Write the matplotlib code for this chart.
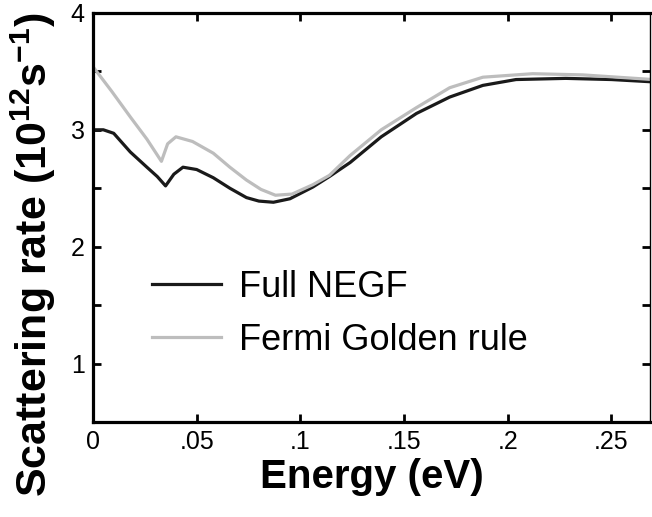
import matplotlib
matplotlib.use("Agg")
import matplotlib.pyplot as plt

plt.rcParams['font.family'] = ['Liberation Sans', 'DejaVu Sans']
plt.rcParams['mathtext.default'] = 'regular'

# Full NEGF (black)
energy_negf = [0, 0.005, 0.01, 0.018, 0.026, 0.031, 0.035, 0.039, 0.0434, 0.05,
               0.058, 0.066, 0.074, 0.08, 0.087, 0.095, 0.106, 0.114, 0.124,
               0.139, 0.156, 0.172, 0.188, 0.204, 0.228, 0.25, 0.27]
rate_negf = [3.0, 3.0, 2.97, 2.81, 2.68, 2.60, 2.52, 2.62, 2.68, 2.66,
             2.59, 2.50, 2.42, 2.39, 2.38, 2.41, 2.51, 2.60, 2.72,
             2.94, 3.14, 3.28, 3.38, 3.43, 3.44, 3.43, 3.41]

# Fermi Golden rule (grey)
energy_fgr = [0, 0.009, 0.018, 0.026, 0.033, 0.036, 0.040, 0.048, 0.058, 0.066,
              0.074, 0.081, 0.088, 0.096, 0.106, 0.114, 0.124, 0.139, 0.156,
              0.172, 0.188, 0.212, 0.236, 0.27]
rate_fgr = [3.54, 3.33, 3.11, 2.92, 2.73, 2.88, 2.94, 2.90, 2.80, 2.68,
            2.57, 2.49, 2.44, 2.45, 2.53, 2.61, 2.78, 3.00, 3.19,
            3.36, 3.45, 3.48, 3.47, 3.43]

xticks = [0, 0.05, 0.1, 0.15, 0.2, 0.25]
xticklabels = ['0', '.05', '.1', '.15', '.2', '.25']
yticks = [1, 2, 3, 4]

fig = plt.figure(figsize=(6.52, 5.17), dpi=100)
ax = fig.add_axes([0.1426, 0.1838, 0.855, 0.7912])

ax.plot(energy_negf, rate_negf, color='#1a1a1a', lw=2.3, label='Full NEGF')
ax.plot(energy_fgr, rate_fgr, color='#bdbdbd', lw=2.3, label='Fermi Golden rule')

ax.set_xlim(0, 0.2688)
ax.set_ylim(0.5, 4)
ax.set_xticks(xticks)
ax.set_xticklabels(xticklabels)
ax.set_yticks(yticks)
ax.set_yticks([0.5, 1.5, 2.5, 3.5], minor=True)
ax.tick_params(which='both', direction='in', top=True, right=True,
               length=6, width=2, labelsize=18, pad=6)

for side in ['left', 'bottom', 'top']:
    ax.spines[side].set_linewidth(2.3)
ax.spines['right'].set_linewidth(1.0)

ax.set_xlabel('Energy (eV)', fontsize=29, fontweight='bold', labelpad=3)
ax.set_ylabel('Scattering rate (10$^{12}$s$^{-1}$)', fontsize=31,
              fontweight='bold')
ax.yaxis.set_label_coords(-0.062, 0.408)

ax.legend(loc='upper left', bbox_to_anchor=(0.08, 0.408), frameon=False,
          fontsize=26, handlelength=1.9, handletextpad=0.5, labelspacing=0.5,
          borderaxespad=0)

fig.savefig('out.png', dpi=100)
